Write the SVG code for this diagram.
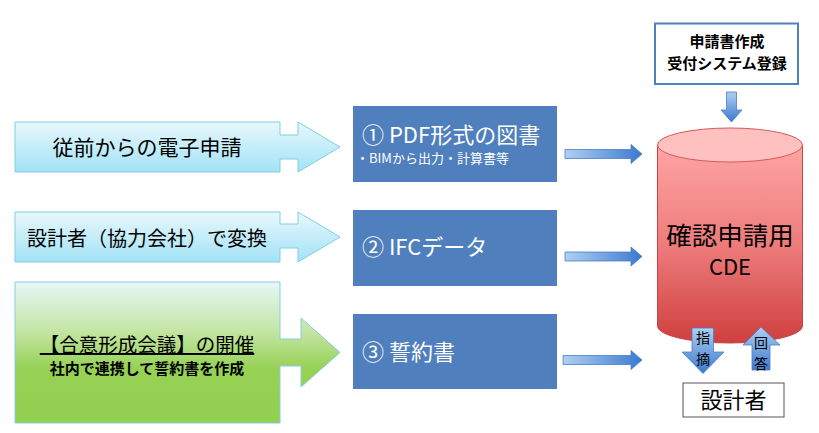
<svg xmlns="http://www.w3.org/2000/svg" width="819" height="433" viewBox="0 0 819 433">
<defs>
<linearGradient id="gCyan" x1="0" y1="0" x2="0" y2="1">
<stop offset="0" stop-color="#e8f8fc"/>
<stop offset="1" stop-color="#a2e2f6"/>
</linearGradient>
<linearGradient id="gGreen" x1="0" y1="0" x2="0" y2="1">
<stop offset="0" stop-color="#e6f7f7"/>
<stop offset="0.35" stop-color="#c3e5a4"/>
<stop offset="0.62" stop-color="#96d154"/>
<stop offset="1" stop-color="#92d050"/>
</linearGradient>
<linearGradient id="gBlueH" x1="0" y1="0" x2="1" y2="0">
<stop offset="0" stop-color="#b0cff2"/>
<stop offset="1" stop-color="#3b7ad0"/>
</linearGradient>
<linearGradient id="gBlueV" x1="0" y1="0" x2="0" y2="1">
<stop offset="0" stop-color="#b0cff2"/>
<stop offset="1" stop-color="#3b7ad0"/>
</linearGradient>
<linearGradient id="gRed" x1="0" y1="0" x2="0" y2="1">
<stop offset="0" stop-color="#ffa4a4"/>
<stop offset="0.5" stop-color="#ee7c7c"/>
<stop offset="1" stop-color="#cf3f3f"/>
</linearGradient>
<style>
text{font-family:"Noto Sans CJK JP","Noto Sans",sans-serif;}
.cyan{fill:url(#gCyan);stroke:#7ecfe6;stroke-width:1;}
.green{fill:url(#gGreen);stroke:#86cde4;stroke-width:1;}
.bbox{fill:#4f7fbd;}
.wt{fill:#ffffff;}
.bk{fill:#000000;}
.harrow{fill:url(#gBlueH);stroke:#4a7fc4;stroke-width:0.8;}
.varrow{fill:url(#gBlueV);stroke:#4a7fc4;stroke-width:0.8;}
</style>
</defs>

<g id="src1">
<path class="cyan" d="M15,122 L280,122 L280,135 L298,135 L298,122 L340,147 L298,172 L298,159 L280,159 L280,172 L15,172 Z"/>
<text class="bk" x="147" y="155" font-size="21" text-anchor="middle">従前からの電子申請</text>
</g>

<g id="src2">
<path class="cyan" d="M15,212 L280,212 L280,224 L298,224 L298,212 L340,237 L298,262 L298,248 L280,248 L280,262 L15,262 Z"/>
<text class="bk" x="147" y="246" font-size="20" text-anchor="middle">設計者（協力会社）で変換</text>
</g>

<g id="src3">
<path class="green" d="M15,282 L280,282 L280,339 L301,339 L301,318 L340,352.5 L301,387 L301,366 L280,366 L280,423 L15,423 Z"/>
<text class="bk" x="147" y="352" font-size="19.5" text-anchor="middle" text-decoration="underline">【合意形成会議】の開催</text>
<text class="bk" x="147" y="374" font-size="15" font-weight="bold" text-anchor="middle">社内で連携して誓約書を作成</text>
</g>

<g id="box1">
<rect class="bbox" x="353" y="106" width="204" height="76"/>
<text class="wt" x="362" y="143" font-size="22">① PDF形式の図書</text>
<text class="wt" x="356" y="163" font-size="13">・BIMから出力・計算書等</text>
</g>

<g id="box2">
<rect class="bbox" x="353" y="210" width="204" height="76"/>
<text class="wt" x="362" y="255" font-size="22">② IFCデータ</text>
</g>

<g id="box3">
<rect class="bbox" x="353" y="314" width="204" height="75"/>
<text class="wt" x="362" y="360" font-size="22">③ 誓約書</text>
</g>

<g id="reception">
<rect x="655" y="23.5" width="143" height="60.5" fill="#ffffff" stroke="#4f81bd" stroke-width="2"/>
<text class="bk" x="727" y="47" font-size="15" font-weight="bold" text-anchor="middle">申請書作成</text>
<text class="bk" x="727" y="68.5" font-size="15" font-weight="bold" text-anchor="middle">受付システム登録</text>
</g>

<g id="cde">
<path d="M657.5,145 L657.5,326 A72.5,17 0 0 0 802.5,326 L802.5,145 Z" fill="url(#gRed)" stroke="#c94444" stroke-width="1"/>
<ellipse cx="730" cy="145" rx="72.5" ry="17" fill="#ffc0c0" stroke="#d65a5a" stroke-width="1"/>
<text class="bk" x="730" y="245" font-size="25.5" text-anchor="middle">確認申請用</text>
<text class="bk" x="730" y="275" font-size="22" text-anchor="middle">CDE</text>
</g>

<g id="designer">
<rect x="683" y="383" width="101" height="34" fill="#ffffff" stroke="#555555" stroke-width="1"/>
<text class="bk" x="733.5" y="408" font-size="22" text-anchor="middle">設計者</text>
</g>

<g id="connectors">
<path class="harrow" d="M565,149.5 L631,149.5 L631,144.5 L642,154 L631,163.5 L631,158.5 L565,158.5 Z"/>
<path class="harrow" d="M565,252 L631,252 L631,247 L642,256.5 L631,266 L631,261 L565,261 Z"/>
<path class="harrow" d="M563,355.5 L631,355.5 L631,350.5 L642,360 L631,369.5 L631,364.5 L563,364.5 Z"/>
<path class="varrow" d="M726.5,92 L736.5,92 L736.5,110 L742,110 L731.5,122 L721,110 L726.5,110 Z"/>
<path class="varrow" d="M692,328 L713.5,328 L713.5,352 L724,352 L703,373.5 L682,352 L692,352 Z"/>
<path class="varrow" d="M752,370 L770,370 L770,345 L780,345 L761,327 L743,345 L752,345 Z"/>
<text class="bk" x="703" y="343" font-size="14" text-anchor="middle">指</text>
<text class="bk" x="703" y="364" font-size="14" text-anchor="middle">摘</text>
<text class="bk" x="761" y="348" font-size="14" text-anchor="middle">回</text>
<text class="bk" x="761" y="369" font-size="14" text-anchor="middle">答</text>
</g>
</svg>
